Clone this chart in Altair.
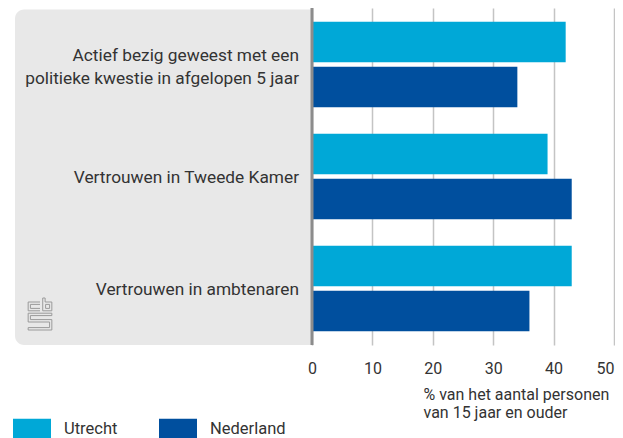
import altair as alt
import pandas as pd

# ---- data ----
categories = [
    "Actief bezig geweest met een|politieke kwestie in afgelopen 5 jaar",
    "Vertrouwen in Tweede Kamer",
    "Vertrouwen in ambtenaren",
]
series = ["Utrecht", "Nederland"]
utrecht = [42, 39, 43]
nederland = [34, 43, 36]
colors = ["#00a8d7", "#004f9e"]
x_ticks = [0, 10, 20, 30, 40, 50]
axis_title = ["% van het aantal personen", "van 15 jaar en ouder"]

rows = []
for i, c in enumerate(categories):
    rows.append({"categorie": c, "regio": series[0], "waarde": utrecht[i]})
    rows.append({"categorie": c, "regio": series[1], "waarde": nederland[i]})
df = pd.DataFrame(rows)
labels_df = pd.DataFrame({"categorie": categories})

FONT = "Roboto"
TXT = "#333333"
W, H = 599, 337
X_MIN = -49.17  # scale extends left of 0 to hold the grey label panel

xscale = alt.Scale(domain=[X_MIN, 50], nice=False, zero=False)
yscale = alt.Scale(domain=categories, paddingInner=0.235, paddingOuter=0.122)

xaxis = alt.Axis(
    values=x_ticks, grid=True, gridColor="#c4c4c4", gridWidth=1.5,
    domain=False, ticks=False, tickSize=0,
    labelFont=FONT, labelFontSize=16, labelColor=TXT, labelBaseline="alphabetic",
    labelPadding=28, labelFlush=True, labelOverlap=False, format="d",
    title=axis_title, titleFont=FONT, titleFontSize=16, titleFontWeight="normal",
    titleColor=TXT, titleAlign="left", titleAnchor="start", titleAngle=0,
    titleX=408, titleY=54, titleBaseline="alphabetic", titleLineHeight=18,
)

panel = alt.Chart(pd.DataFrame({"a": [0]})).mark_rect(
    color="#e8e8e8", cornerRadiusTopLeft=9, cornerRadiusBottomLeft=9
).encode(
    x=alt.datum(X_MIN, scale=xscale), x2=alt.datum(0),
    y=alt.value(1.5), y2=alt.value(H),
)

bars = alt.Chart(df).mark_bar().encode(
    x=alt.X("waarde:Q", scale=xscale, axis=xaxis),
    x2=alt.datum(0),
    y=alt.Y("categorie:N", scale=yscale, axis=None, sort=categories),
    yOffset=alt.YOffset("regio:N", sort=series,
                        scale=alt.Scale(domain=series, paddingInner=0.095, paddingOuter=0)),
    color=alt.Color(
        "regio:N", sort=series, scale=alt.Scale(domain=series, range=colors),
        legend=alt.Legend(
            orient="none", legendX=-2, legendY=402, direction="horizontal", title=None,
            symbolType="M-1,-0.55H1V0.55H-1Z", symbolSize=1444, symbolStrokeWidth=0,
            symbolOpacity=1, labelFont=FONT, labelFontSize=16.5, labelColor=TXT,
            labelOffset=13, columnPadding=41,
        ),
    ),
)

zero_line = alt.Chart(pd.DataFrame({"a": [0]})).mark_rule(
    color="#8c8c8c", strokeWidth=3
).encode(x=alt.datum(0), y=alt.value(0), y2=alt.value(H))

label_style = dict(align="right", baseline="middle", dx=-13, lineBreak="|",
                   lineHeight=22.7, font=FONT, fontSize=17.3, color=TXT)
label_enc = dict(
    x=alt.datum(0),
    y=alt.Y("categorie:N", scale=yscale, axis=None, sort=categories),
    text="categorie:N",
)
labels_one = alt.Chart(labels_df).transform_filter(
    "indexof(datum.categorie, '|') < 0"
).mark_text(dy=1.5, **label_style).encode(**label_enc)
labels_two = alt.Chart(labels_df).transform_filter(
    "indexof(datum.categorie, '|') >= 0"
).mark_text(dy=-8.5, **label_style).encode(**label_enc)

LOGO = (
    "M0,-0.75L-0.74,-0.75L-0.74,-0.2L0,-0.2"
    "M0,-0.6L-0.6,-0.6L-0.6,-0.35L0,-0.35"
    "M0.17,-1L0.17,-0.2L0.74,-0.2L0.74,-0.75L0.32,-0.75L0.32,-1Z"
    "M0.35,-0.6L0.6,-0.6L0.6,-0.35L0.35,-0.35Z"
    "M0.74,-0.05L-0.74,-0.05L-0.74,0.5L0.6,0.5L0.6,0.85L-0.74,0.85L-0.74,1"
    "L0.74,1L0.74,0.35L-0.6,0.35L-0.6,0.1L0.74,0.1Z"
)
logo = alt.Chart(pd.DataFrame({"a": [0]})).mark_point(
    shape=LOGO, size=1024, filled=False, stroke="#9a9a9a", strokeWidth=1, opacity=1
).encode(x=alt.value(25), y=alt.value(306))

chart = (
    alt.layer(panel, bars, zero_line, labels_one, labels_two, logo)
    .properties(
        width=W, height=H,
        autosize=alt.AutoSizeParams(type="none"),
        padding={"left": 7, "top": 0, "right": 1, "bottom": 93},
        background="white",
    )
    .configure(font=FONT)
    .configure_view(stroke=None)
)

chart.save("out.html", embed_options={"renderer": "svg", "actions": False})
